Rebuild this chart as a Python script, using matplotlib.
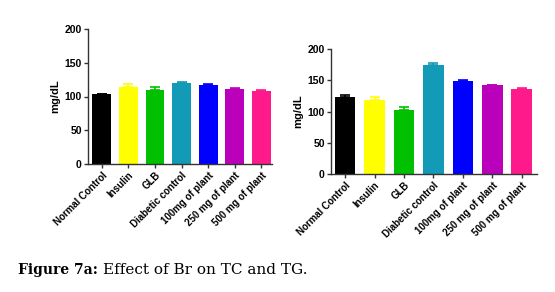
import matplotlib
matplotlib.use("Agg")
import matplotlib.pyplot as plt
import numpy as np

categories = ["Normal Control", "Insulin", "GLB", "Diabetic control",
              "100mg of plant", "250 mg of plant", "500 mg of plant"]
tc_values = [103, 114, 109, 120, 117, 111, 108]
tc_errors = [1, 4, 5, 2, 1, 1, 1]
tg_values = [123, 118, 103, 175, 149, 142, 136]
tg_errors = [4, 5, 4, 2, 1, 1, 2]
colors = ["#000000", "#FFFF00", "#00C000", "#129AB6", "#0000FF", "#BB00BB", "#FF1A8C"]
yticks = [0, 50, 100, 150, 200]

plt.rcParams['font.family'] = ['Liberation Sans', 'DejaVu Sans']

fig = plt.figure(figsize=(5.55, 2.92), dpi=100)

def draw(ax, values, errors, width, xlim):
    x = np.arange(len(categories))
    ax.bar(x, values, width=width, color=colors, zorder=2)
    for xi, v, e, c in zip(x, values, errors, colors):
        ax.errorbar(xi, v, yerr=[[0], [e]], fmt='none', ecolor=c,
                    elinewidth=1.2, capsize=3.5, capthick=1.2, zorder=3)
    ax.set_ylim(0, 200)
    ax.set_xlim(*xlim)
    ax.set_yticks(yticks)
    ax.set_xticks(x)
    ax.set_xticklabels(categories, rotation=45, ha='right',
                       rotation_mode='anchor', fontsize=7, fontweight='bold')
    for lab in ax.get_yticklabels():
        lab.set_fontsize(7.5)
        lab.set_fontweight('bold')
    ax.set_ylabel("mg/dL", fontsize=8, fontweight='bold', labelpad=3)
    for s in ['top', 'right']:
        ax.spines[s].set_visible(False)
    for s in ['left', 'bottom']:
        ax.spines[s].set_color('#333333')
        ax.spines[s].set_linewidth(1.0)
    ax.tick_params(axis='both', length=3, width=1, color='#333333', pad=1.5)

ax1 = fig.add_axes([88/555, 1-164/292, (272-88)/555, (164-29)/292])
draw(ax1, tc_values, tc_errors, 0.71, (-0.52, 6.4))

ax2 = fig.add_axes([331/555, 1-174/292, (537-331)/555, (174-49)/292])
draw(ax2, tg_values, tg_errors, 0.70, (-0.48, 6.52))

serif = ['DejaVu Serif', 'Liberation Serif']
t1 = fig.text(18/555, 1-270/292, "Figure 7a:", fontsize=10, fontweight='bold',
              family=serif, va='center', ha='left')
fig.canvas.draw()
bb = t1.get_window_extent(renderer=fig.canvas.get_renderer())
fig.text((bb.x1 + 5)/555, 1-270/292, "Effect of Br on TC and TG.", fontsize=11,
         family=serif, va='center', ha='left')

fig.savefig("out.png", dpi=100)
